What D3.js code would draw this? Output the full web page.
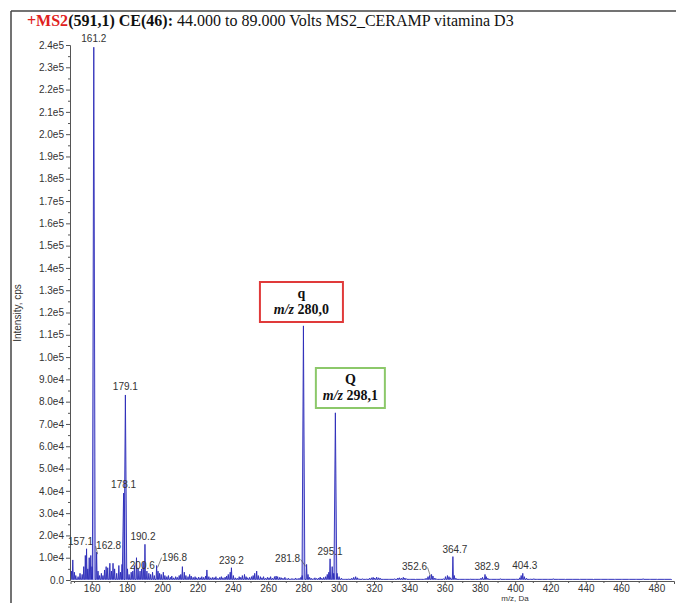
<!DOCTYPE html>
<html>
<head>
<meta charset="UTF-8" />
<title>MS2 spectrum</title>
<script src="https://cdn.jsdelivr.net/npm/d3@7"></script>
<style>
    body { margin: 0; background: #fff; }
    svg { display: block; background: #fff; }
    .axis text { font-family: "Liberation Sans", Arial, sans-serif; font-size: 10px; fill: #333; }
    .axis line, .axis path { stroke: #555; }
    .peak-label { font-family: "Liberation Sans", Arial, sans-serif; font-size: 10px; fill: #333; }
    .box-text { font-family: "Liberation Serif", "Times New Roman", serif; font-weight: bold; font-size: 14px; fill: #111; }
</style>
</head>
<body>
<div id="chart"></div>
<script>
// labelled peaks (m/z, intensity cps)
const peakMz  = [157.1, 161.2, 162.8, 178.1, 179.1, 190.2, 196.8, 200.6, 239.2, 280.0, 281.8, 295.1, 298.1, 352.6, 364.7, 382.9, 404.3];
const peakInt = [14000, 239000, 12500, 39000, 83000, 16000, 6500, 3500, 5500, 114000, 7000, 9500, 75000, 2500, 10500, 2500, 3000];

// unlabelled small peaks / baseline noise
const noiseMz = [148.5,149.3,150.2,151,152.3,153.4,154.6,155.5,156.4,157.8,158.6,159.5,160.2,163.6,164.5,165.5,166.4,167.3,168.2,169.1,170.3,171.2,172.1,173,174.2,175.4,176.3,177.2,180.3,181.2,182.4,183.3,184.2,185.4,186.3,187.4,188.3,189.2,191.3,192.4,193.4,194.5,195.5,197.6,198.5,199.4,201.5,202.6,203.5,204.6,205.4,206.5,207.6,208.5,209.6,210.5,211.4,212.5,213.4,214.6,215.5,216.4,217.5,218.6,219.5,220.6,221.5,222.4,223.5,224.6,225.3,226.4,227.5,228.6,229.5,230.4,231.5,232.6,233.5,234.4,235.6,236.5,237.4,238.5,240.3,241.4,242.5,243.6,244.5,245.4,246.6,247.5,248.4,249.5,250.6,251.5,252.4,253.5,254.4,255.6,256.5,257.4,258.5,259.6,260.5,261.4,262.5,263.6,264.5,265.4,266.6,267.5,268.4,269.5,270.6,271.5,272.4,273.5,274.6,275.5,276.4,277.5,278.6,279.3,282.6,283.5,284.4,285.6,286.5,287.4,288.6,289.5,290.4,291.5,292.6,293.5,294.4,296.3,297.2,299.1,300.2,301.5,302.4,303.6,305.5,307.4,308.5,309.6,310.5,311.4,313.5,315.6,317.5,318.6,319.5,320.4,321.5,322.6,323.5,325.4,328.5,331.6,333.5,334.4,335.5,336.6,337.5,338.4,340.5,343.6,346.5,348.4,349.5,350.6,351.5,353.4,354.5,355.6,357.5,359.4,360.5,361.6,362.5,363.4,365.5,366.4,368.5,371.6,374.5,377.4,379.5,380.6,381.5,383.6,384.5,386.4,389.5,391.6,394.5,397.4,400.5,402.6,403.4,405.2,406.4,408.5,410.6,412.5,415.4,418.5,421.6,424.5,428.4,432.5,436.6,440.5,444.4,448.5,452.6,456.5,460.4,464.5,468.6,472.5,476.4,480.5,484.6,488.5];
const noiseInt = [4000,9000,3500,2000,1500,3000,2500,6000,11000,5000,10000,11000,6000,4000,2000,3000,2000,4500,6000,5500,7500,4000,7500,5000,3000,6500,3500,7000,5000,2500,3500,4000,6500,10000,5000,4000,5000,8000,4000,3000,2500,3500,2000,4000,3000,2500,2000,1500,2000,1200,1800,1000,1500,1200,2000,2500,6000,3500,2000,1500,2500,1800,1200,1500,1000,1300,1000,1500,1200,1800,4500,1500,1000,1200,1000,1500,800,1200,1500,1000,1300,1800,2500,3500,2000,1000,800,1500,1200,2000,2500,1500,1000,1200,1500,2000,3000,4000,2000,1500,1000,1500,800,1200,1000,1500,800,1500,1800,1500,1200,1000,800,1200,600,800,500,700,500,900,600,800,1200,2000,2500,1200,800,600,1000,700,900,1300,800,1200,1500,2500,3500,6000,3000,3000,1500,800,500,300,400,800,1200,1500,1000,600,500,400,800,1000,1200,900,1300,1000,800,300,300,500,900,1000,800,1200,900,600,300,200,300,500,800,1500,2000,1800,900,500,300,600,1500,2000,1500,1000,2000,800,300,300,400,300,500,800,1200,1500,800,300,300,600,300,300,500,1000,2000,1500,800,400,600,300,300,300,600,300,200,300,200,300,200,300,400,200,300,200,300,600,300,200,300,200];

// label placement for the annotated peaks
const labelDx = [-6, 0, 12, 0, 0, -2, 18, -21, 0, 0, -19, 0, 0, -17, 2, 2, 2];
const labelDy = [-4, -5, -3, -5, -5, -4, -5, -3, -4, 0, -2, -4, 0, -4, -4, -4, -4];
const labelLeader = [false, false, true, false, false, false, true, false, false, false, true, false, false, true, false, false, false];

const yTicks = d3.range(0, 240001, 10000);
const xTicks = d3.range(160, 481, 20);

const width = 676, height = 603;
const svg = d3.select("#chart").append("svg")
    .attr("width", width)
    .attr("height", height);

let x = d3.scaleLinear().domain([148, 490]).range([70.5, 674]);
let y = d3.scaleLinear().domain([0, 240000]).range([580, 45]);

// frame lines (top + left)
svg.append("line").attr("x1", 11).attr("y1", 11).attr("x2", width).attr("y2", 11)
    .attr("stroke", "#444").attr("stroke-width", 1.5);
svg.append("line").attr("x1", 11).attr("y1", 11).attr("x2", 11).attr("y2", height)
    .attr("stroke", "#444").attr("stroke-width", 1.5);

// title
let title = svg.append("text")
    .attr("x", 27).attr("y", 26)
    .style("font-family", "'Liberation Serif', 'Times New Roman', serif")
    .style("font-size", "16px")
    .attr("fill", "#111");
title.append("tspan").attr("fill", "#e02020").attr("font-weight", "bold").text("+MS2");
title.append("tspan").attr("font-weight", "bold").text("(591,1) CE(46):");
title.append("tspan").text(" 44.000 to 89.000 Volts MS2_CERAMP vitamina D3");

// build the spectrum profile: every peak as a narrow triangle on the baseline
let peaks = peakMz.map((m, i) => ({ mz: m, v: peakInt[i], big: peakInt[i] > 30000 }))
    .concat(noiseMz.map((m, i) => ({ mz: m, v: noiseInt[i], big: false })))
    .sort((a, b) => a.mz - b.mz);

let profile = [];
peaks.forEach(p => {
    let w = p.big ? 0.8 : 0.3;
    profile.push({ mz: p.mz - w, v: 300 });
    profile.push({ mz: p.mz, v: p.v });
    profile.push({ mz: p.mz + w, v: 300 });
});

let area = d3.area().x(d => x(d.mz)).y0(y(0)).y1(d => y(d.v));
let line = d3.line().x(d => x(d.mz)).y(d => y(d.v));

svg.append("path").datum(profile)
    .attr("d", area)
    .attr("fill", "#b4b4ee");
svg.append("path").datum(profile)
    .attr("d", line)
    .attr("fill", "none")
    .attr("stroke", "#2a2ab8")
    .attr("stroke-width", 0.9);

// y axis
let fmtY = v => v === 0 ? "0.0" : (v < 100000 ? (v / 1e4).toFixed(1) + "e4" : (v / 1e5).toFixed(1) + "e5");
svg.append("g")
    .attr("class", "axis")
    .attr("transform", "translate(70,0)")
    .call(d3.axisLeft(y).tickValues(yTicks).tickFormat(fmtY).tickSize(4).tickPadding(2))
    .call(g => g.select(".domain").attr("stroke", "#777"));
svg.append("g")
    .attr("class", "axis")
    .attr("transform", "translate(70,0)")
    .call(d3.axisLeft(y).tickValues(d3.range(5000, 240000, 10000)).tickFormat("").tickSize(2))
    .call(g => g.select(".domain").remove());

// x axis
svg.append("g")
    .attr("class", "axis")
    .attr("transform", "translate(0,581)")
    .call(d3.axisBottom(x).tickValues(xTicks).tickFormat(d3.format("d")).tickSize(3).tickPadding(0.5))
    .call(g => g.select(".domain").attr("stroke", "#888"));
svg.append("g")
    .attr("class", "axis")
    .attr("transform", "translate(0,581)")
    .call(d3.axisBottom(x).tickValues(d3.range(150, 490, 20)).tickFormat("").tickSize(2))
    .call(g => g.select(".domain").remove());

// axis titles
svg.append("text")
    .attr("transform", "translate(21,313) rotate(-90)")
    .attr("text-anchor", "middle")
    .attr("class", "peak-label")
    .text("Intensity, cps");
svg.append("text")
    .attr("x", 515).attr("y", 601.3)
    .attr("text-anchor", "middle")
    .attr("class", "peak-label")
    .style("font-size", "8px")
    .text("m/z, Da");

// peak labels (q and Q peaks are annotated with boxes instead)
peakMz.forEach((m, i) => {
    if (m === 280.0 || m === 298.1) return;
    let px = x(m), py = y(peakInt[i]);
    let tx = px + labelDx[i], ty = py + labelDy[i];
    svg.append("text")
        .attr("class", "peak-label")
        .attr("x", tx).attr("y", ty)
        .attr("text-anchor", "middle")
        .text(m.toFixed(1));
    if (labelLeader[i]) {
        let ex = labelDx[i] > 0 ? tx - 13 : tx + 13;
        svg.append("line")
            .attr("x1", ex).attr("y1", ty - 3)
            .attr("x2", px + (labelDx[i] > 0 ? 1 : -1)).attr("y2", py + 2)
            .attr("stroke", "#555").attr("stroke-width", 0.7);
    }
});

// boxed annotations for q and Q ions
function ionBox(cx, top, w, h, colour, letter, value) {
    svg.append("rect")
        .attr("x", cx - w / 2).attr("y", top)
        .attr("width", w).attr("height", h)
        .attr("fill", "#fff")
        .attr("stroke", colour).attr("stroke-width", 2);
    svg.append("text").attr("class", "box-text")
        .attr("x", cx).attr("y", top + 16)
        .attr("text-anchor", "middle")
        .text(letter);
    let t = svg.append("text").attr("class", "box-text")
        .attr("x", cx).attr("y", top + 32)
        .attr("text-anchor", "middle");
    t.append("tspan").attr("font-style", "italic").text("m/z");
    t.append("tspan").text(" " + value);
}
ionBox(x(280.0) - 2, 282, 83, 40, "#e03a3a", "q", "280,0");
ionBox(x(298.1) + 15, 368, 69, 40, "#8cc86a", "Q", "298,1");
</script>
</body>
</html>
